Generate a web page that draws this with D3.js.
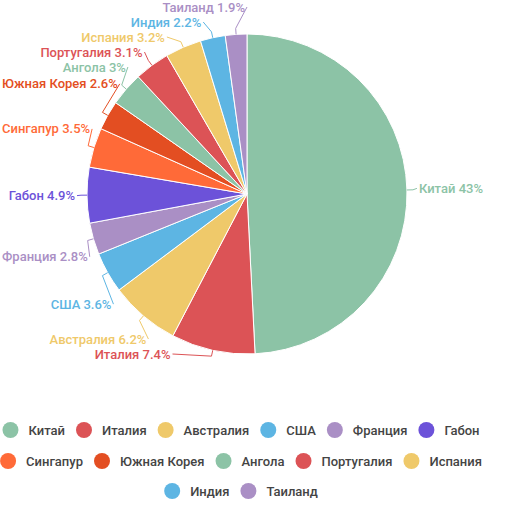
<!DOCTYPE html>
<html>
<head>
<meta charset="utf-8">
<script src="https://cdn.jsdelivr.net/npm/d3@7"></script>
<style>
  body { margin: 0; background: #fff; }
  text { font-family: Roboto, "Noto Sans", sans-serif; }
</style>
</head>
<body>
<div id="main"></div>
<script>
const countries = ["Китай", "Италия", "Австралия", "США", "Франция", "Габон", "Сингапур",
  "Южная Корея", "Ангола", "Португалия", "Испания", "Индия", "Таиланд"];
const shares = [43, 7.4, 6.2, 3.6, 2.8, 4.9, 3.5, 2.6, 3, 3.1, 3.2, 2.2, 1.9];
const colors = ["#8cc3a6", "#dc5356", "#efc96a", "#5db5e3", "#aa8fc5", "#6c52d9", "#ff6a38",
  "#e34e22", "#8cc3a6", "#dc5356", "#efc96a", "#5db5e3", "#aa8fc5"];

let width = 515;
let height = 523;
let cx = 247, cy = 194, radius = 160;

let svg = d3.select('#main')
  .append('svg')
  .attr('width', width)
  .attr('height', height);

let data = countries.map((name, i) => ({ name: name, value: shares[i], color: colors[i] }));

let pie = d3.pie().sort(null).value(d => d.value);
let arc = d3.arc().innerRadius(0).outerRadius(radius);
let arcs = pie(data);

let chart = svg.append('g')
  .attr('transform', 'translate(' + cx + ',' + cy + ')');

chart.selectAll('path.slice')
  .data(arcs)
  .enter().append('path')
  .attr('class', 'slice')
  .attr('d', arc)
  .attr('fill', d => d.data.color)
  .attr('stroke', '#fff')
  .attr('stroke-width', 1);

// label layout: natural spot on a wider circle, then pushed apart per side
let labelH = 15;
let topBound = 7 - cy;
let bottomBound = radius;
let rNatural = radius * 1.4;
// x of the label end follows an ellipse around the pie
let rA = radius + 10, rB = radius + 18;

let labels = arcs.map(d => {
  let a = (d.startAngle + d.endAngle) / 2;
  return { d: d, a: a, side: Math.sin(a) >= 0 ? 1 : -1, y: -rNatural * Math.cos(a) };
});

[1, -1].forEach(side => {
  let list = labels.filter(l => l.side === side).sort((p, q) => p.y - q.y);
  for (let i = 0; i < list.length; i++) {
    let min = i ? list[i - 1].y + labelH : topBound;
    if (list[i].y < min) list[i].y = min;
  }
  for (let i = list.length - 1; i >= 0; i--) {
    let max = i < list.length - 1 ? list[i + 1].y - labelH : bottomBound;
    if (list[i].y > max) list[i].y = max;
  }
});

labels.forEach(l => {
  let k = 1 - (l.y * l.y) / (rB * rB);
  l.x = l.side * rA * Math.sqrt(Math.max(k, 0));
});

let labelText = chart.selectAll('text.label')
  .data(labels)
  .enter().append('text')
  .attr('class', 'label')
  .attr('dy', '0.35em')
  .attr('text-anchor', l => l.side > 0 ? 'start' : 'end')
  .attr('fill', l => l.d.data.color)
  .style('font-size', '13px')
  .style('font-weight', '500')
  .text(l => l.d.data.name + ' ' + l.d.data.value + '%');

// keep labels inside the svg on the left
labelText.each(function(l) {
  let w = this.getComputedTextLength();
  if (l.side < 0) l.x = Math.max(l.x, -cx + w + 4);
});

labelText
  .attr('x', l => l.x + l.side * 2)
  .attr('y', l => l.y);

let line = d3.line();

chart.selectAll('path.leader')
  .data(labels)
  .enter().insert('path', 'text.label')
  .attr('class', 'leader')
  .attr('fill', 'none')
  .attr('stroke', l => l.d.data.color)
  .attr('stroke-width', 1)
  .attr('d', l => {
    let s = Math.sin(l.a), c = Math.cos(l.a);
    return line([
      [radius * s, -radius * c],
      [(radius + 6) * s, -(radius + 6) * c],
      [l.x, l.y]
    ]);
  });

// legend: wrapped rows, each row centered
let legendCenter = 241;
let legendMaxWidth = 486;
let rowY = [430, 461, 491];
let dotR = 8, dotGap = 10, itemGap = 11;

let legend = svg.append('g').attr('class', 'legend');

let items = legend.selectAll('g.item')
  .data(data)
  .enter().append('g')
  .attr('class', 'item');

items.append('circle')
  .attr('r', dotR)
  .attr('cx', dotR)
  .attr('fill', d => d.color);

items.append('text')
  .attr('x', dotR * 2 + dotGap)
  .attr('dy', '0.35em')
  .attr('fill', '#444')
  .style('font-size', '13px')
  .style('font-weight', '500')
  .text(d => d.name);

let rows = [[]];
let rowWidth = 0;
items.each(function() {
  let w = this.querySelector('text').getComputedTextLength() + dotR * 2 + dotGap;
  let row = rows[rows.length - 1];
  let needed = row.length ? rowWidth + itemGap + w : w;
  if (needed > legendMaxWidth && row.length) {
    rows.push([{ node: this, w: w }]);
    rowWidth = w;
  } else {
    row.push({ node: this, w: w });
    rowWidth = needed;
  }
});

rows.forEach((row, ri) => {
  let total = d3.sum(row, r => r.w) + itemGap * (row.length - 1);
  let x = legendCenter - total / 2;
  row.forEach(r => {
    d3.select(r.node).attr('transform', 'translate(' + x + ',' + rowY[ri] + ')');
    x += r.w + itemGap;
  });
});
</script>
</body>
</html>
